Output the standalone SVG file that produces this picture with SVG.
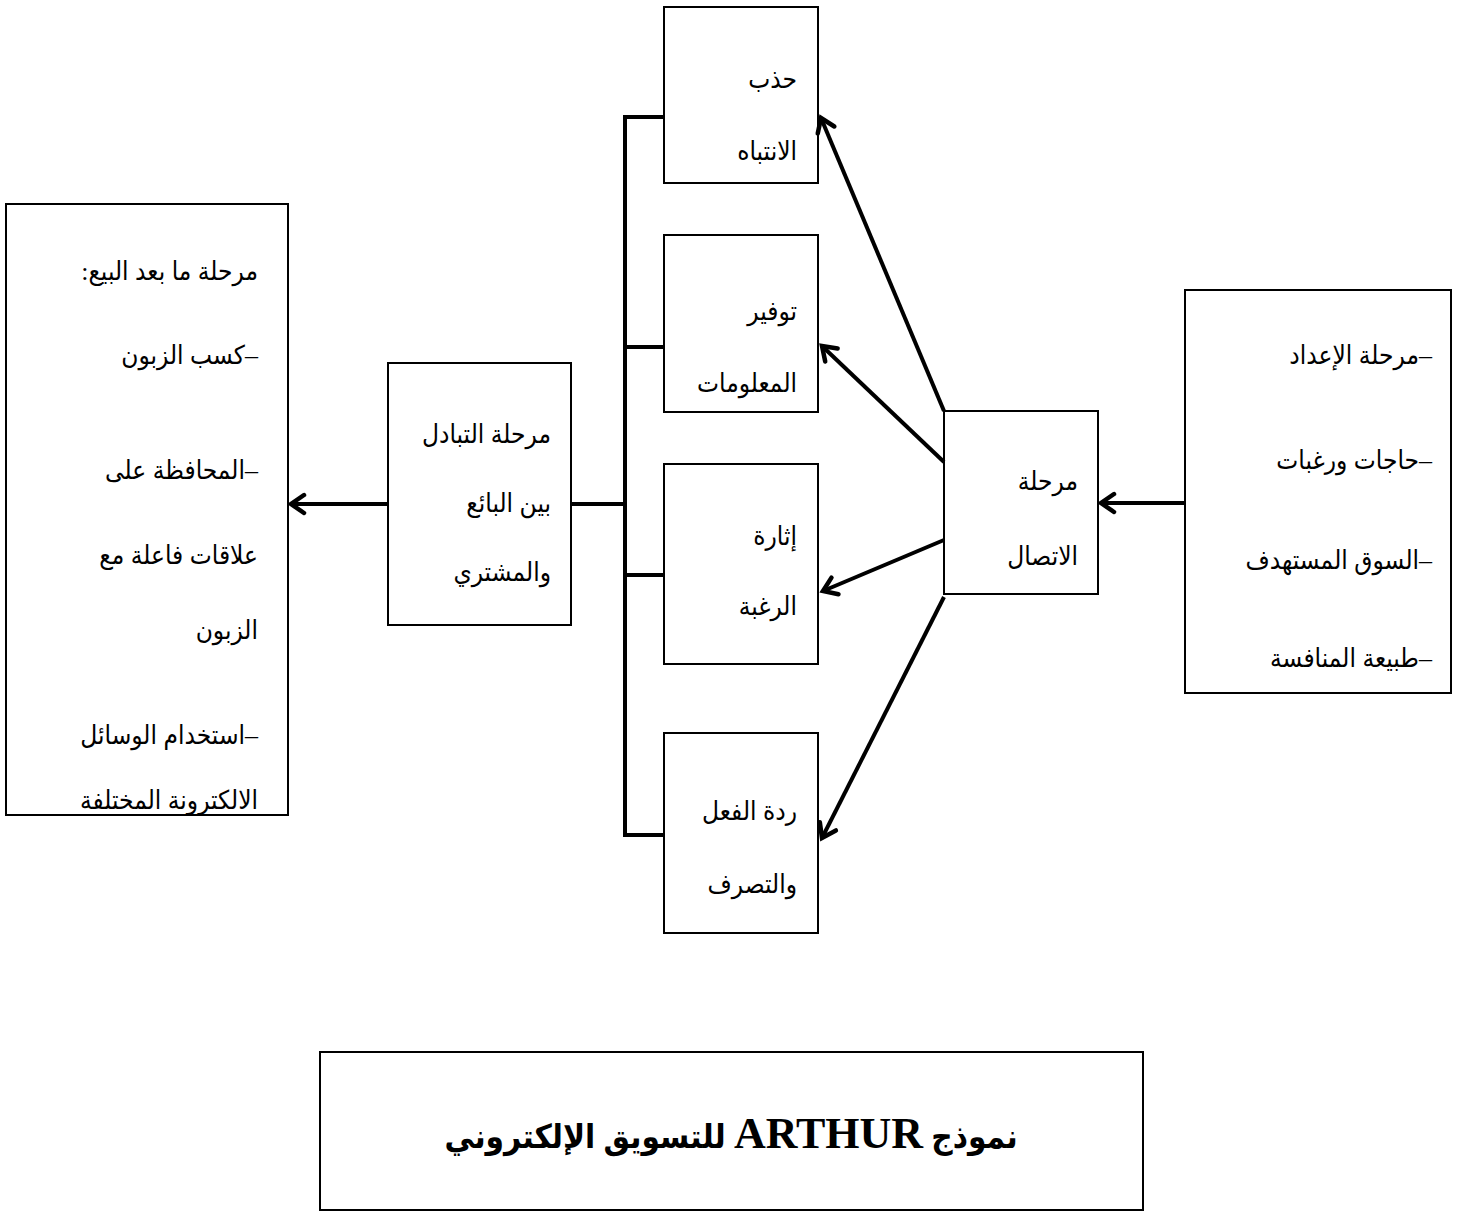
<svg xmlns="http://www.w3.org/2000/svg" width="1462" height="1212" viewBox="0 0 1462 1212">
<style>
  .box { fill: #ffffff; stroke: #000000; stroke-width: 2; }
  .t { font-family: "Liberation Serif", "DejaVu Sans Condensed", "DejaVu Sans", serif; font-size: 26px; fill: #000000; direction: rtl; unicode-bidi: embed; text-anchor: start; }
  .title { font-family: "Liberation Serif", "DejaVu Sans Condensed", "DejaVu Sans", serif; font-size: 33px; font-weight: bold; fill: #000000; direction: rtl; unicode-bidi: embed; text-anchor: middle; }
  .latin { font-size: 44px; }
  .bus { stroke: #000000; stroke-width: 4; fill: none; }
  .arr { stroke: #000000; stroke-width: 4; fill: none; marker-end: url(#head); }
</style>
<defs>
  <marker id="head" viewBox="-16 -12 20 24" markerWidth="20" markerHeight="24" refX="0" refY="0" orient="auto" markerUnits="userSpaceOnUse">
    <path d="M-13,-9 L0,0 L-13,9" fill="none" stroke="#000000" stroke-width="4.5" stroke-linejoin="miter" stroke-linecap="round"/>
  </marker>
</defs>
<rect width="1462" height="1212" fill="#ffffff"/>

<g id="node-after-sale">
  <rect class="box" x="6" y="204" width="282" height="611"/>
  <text class="t" x="258" y="280">مرحلة ما بعد البيع:</text>
  <text class="t" x="258" y="364">–كسب الزبون</text>
  <text class="t" x="258" y="479">–المحافظة على</text>
  <text class="t" x="258" y="564">علاقات فاعلة مع</text>
  <text class="t" x="258" y="639">الزبون</text>
  <text class="t" x="258" y="744">–استخدام الوسائل</text>
  <text class="t" x="258" y="809">الالكترونة المختلفة</text>
</g>

<g id="node-exchange">
  <rect class="box" x="388" y="363" width="183" height="262"/>
  <text class="t" x="551" y="443">مرحلة التبادل</text>
  <text class="t" x="551" y="512">بين البائع</text>
  <text class="t" x="551" y="581">والمشتري</text>
</g>

<g id="node-attention">
  <rect class="box" x="664" y="7" width="154" height="176"/>
  <text class="t" x="797" y="88">حذب</text>
  <text class="t" x="797" y="160">الانتباه</text>
</g>

<g id="node-information">
  <rect class="box" x="664" y="235" width="154" height="177"/>
  <text class="t" x="797" y="320">توفير</text>
  <text class="t" x="797" y="392">المعلومات</text>
</g>

<g id="node-desire">
  <rect class="box" x="664" y="464" width="154" height="200"/>
  <text class="t" x="797" y="545">إثارة</text>
  <text class="t" x="797" y="615">الرغبة</text>
</g>

<g id="node-action">
  <rect class="box" x="664" y="733" width="154" height="200"/>
  <text class="t" x="797" y="820">ردة الفعل</text>
  <text class="t" x="797" y="893">والتصرف</text>
</g>

<g id="node-communication">
  <rect class="box" x="944" y="411" width="154" height="183"/>
  <text class="t" x="1078" y="490">مرحلة</text>
  <text class="t" x="1078" y="565">الاتصال</text>
</g>

<g id="node-preparation">
  <rect class="box" x="1185" y="290" width="266" height="403"/>
  <text class="t" x="1432" y="364">–مرحلة الإعداد</text>
  <text class="t" x="1432" y="469">–حاجات ورغبات</text>
  <text class="t" x="1432" y="569">–السوق المستهدف</text>
  <text class="t" x="1432" y="667">–طبيعة المنافسة</text>
</g>

<g id="node-title">
  <rect class="box" x="320" y="1052" width="823" height="158"/>
  <text class="title" x="731" y="1148">نموذج <tspan class="latin">ARTHUR</tspan> للتسويق الإلكتروني</text>
</g>

<g id="connectors">
  <line class="arr" x1="1185" y1="503" x2="1101" y2="503"/>
  <line class="arr" x1="944" y1="411" x2="821" y2="118"/>
  <line class="arr" x1="944" y1="462" x2="822" y2="346"/>
  <line class="arr" x1="944" y1="540" x2="823" y2="591"/>
  <line class="arr" x1="944" y1="597" x2="822" y2="838"/>
  <line class="arr" x1="388" y1="504" x2="291" y2="504"/>
  <polyline class="bus" points="571,504 625,504"/>
  <line class="bus" x1="625" y1="115" x2="625" y2="837"/>
  <line class="bus" x1="623" y1="117" x2="665" y2="117"/>
  <line class="bus" x1="623" y1="347" x2="665" y2="347"/>
  <line class="bus" x1="623" y1="575" x2="665" y2="575"/>
  <line class="bus" x1="623" y1="835" x2="665" y2="835"/>
</g>
</svg>
